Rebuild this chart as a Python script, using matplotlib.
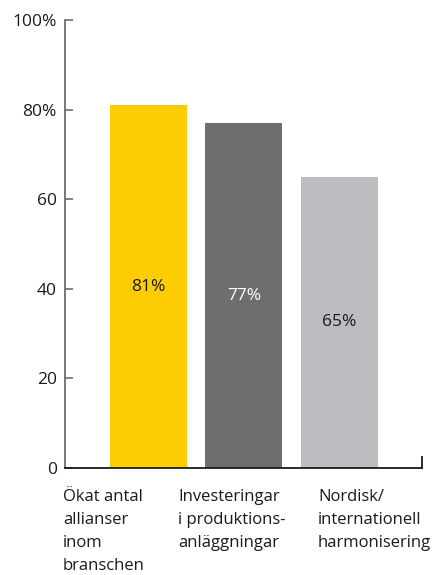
import matplotlib.pyplot as plt

# data
categories = ['Ökat antal\nallianser\ninom\nbranschen',
              'Investeringar\ni produktions-\nanläggningar',
              'Nordisk/\ninternationell\nharmonisering']
values = [81, 77, 65]
value_labels = ['81%', '77%', '65%']
yticks = [0, 20, 40, 60, 80, 100]
ytick_labels = ['0', '20', '40', '60', '80%', '100%']

colors = ['#FECC02', '#6D6E70', '#BCBDC0']
label_colors = ['#1a1a1a', 'white', '#1a1a1a']

plt.rcParams['font.family'] = ['Open Sans', 'DejaVu Sans']

fig = plt.figure(figsize=(4.43, 5.75), dpi=100)
ax = fig.add_axes([0.1467, 0.1861, 0.8059, 0.7791])

x = list(range(len(values)))
ax.bar(x, values, width=0.806, color=colors, zorder=2)

for i in x:
    ax.text(i, values[i] / 2, value_labels[i], ha='center', va='center',
            fontsize=12.5, color=label_colors[i])

# category labels are left aligned, not centred on the bars
label_x = [-0.895, 0.309, 1.775]
for i in x:
    ax.text(label_x[i], -0.048, categories[i], transform=ax.get_xaxis_transform(),
            ha='left', va='top', fontsize=12, color='#1a1a1a', linespacing=1.58)

ax.set_xlim(-0.874, 2.864)
ax.set_ylim(0, 100)
ax.set_xticks([])
ax.set_yticks(yticks)
ax.set_yticklabels(ytick_labels)
ax.tick_params(axis='y', direction='in', length=6, width=1.2, color='#6d6d6d',
               labelsize=12.5, labelcolor='#1a1a1a', pad=6)

ax.spines['top'].set_visible(False)
ax.spines['left'].set_color('#6d6d6d')
ax.spines['left'].set_linewidth(1.3)
ax.spines['bottom'].set_color('#1a1a1a')
ax.spines['bottom'].set_linewidth(1.3)
ax.spines['right'].set_color('#1a1a1a')
ax.spines['right'].set_linewidth(1.3)
ax.spines['right'].set_bounds(0, 2.5)

fig.savefig('out.png', dpi=100)
